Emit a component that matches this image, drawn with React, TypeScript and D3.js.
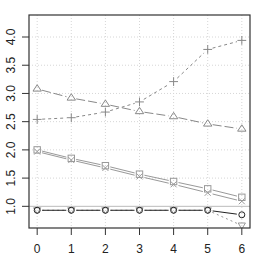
import { useMemo } from "react";
import * as d3 from "d3";

const xs = [0, 1, 2, 3, 4, 5, 6];
const triangles = [3.08, 2.92, 2.81, 2.68, 2.59, 2.46, 2.37];
const pluses = [2.54, 2.57, 2.67, 2.85, 3.21, 3.78, 3.94];
const squares = [2.0, 1.85, 1.72, 1.57, 1.44, 1.31, 1.16];
const crosses = [1.97, 1.82, 1.68, 1.53, 1.39, 1.24, 1.09];
const circles = [0.93, 0.93, 0.93, 0.93, 0.93, 0.93, 0.85];
const downTri = [0.93, 0.93, 0.93, 0.93, 0.93, 0.93, 0.66];
const xTicks = [0, 1, 2, 3, 4, 5, 6];
const yTicks = [1.0, 1.5, 2.0, 2.5, 3.0, 3.5, 4.0];

const W = 258;
const H = 258;
const BOX = { left: 29, top: 15, right: 250, bottom: 228 };

type Shape = "tri" | "plus" | "square" | "cross" | "circle" | "down";

interface Series {
  values: number[];
  shape: Shape;
  color: string;
  dash?: string;
}

const series: Series[] = [
  { values: downTri, shape: "down", color: "#999", dash: "2 3" },
  { values: triangles, shape: "tri", color: "#888", dash: "9 3" },
  { values: pluses, shape: "plus", color: "#888", dash: "3 3" },
  { values: squares, shape: "square", color: "#999" },
  { values: crosses, shape: "cross", color: "#999" },
  { values: circles, shape: "circle", color: "#222" },
];

function Marker({ x, y, shape, color }: { x: number; y: number; shape: Shape; color: string }) {
  const s = 3.6;
  const common = { fill: "none", stroke: color, strokeWidth: 1 };
  switch (shape) {
    case "tri":
      return <path d={`M${x},${y - s - 0.6}L${x + s + 0.6},${y + s * 0.6}L${x - s - 0.6},${y + s * 0.6}Z`} {...common} />;
    case "down":
      return <path d={`M${x},${y + s}L${x + s},${y - s * 0.7}L${x - s},${y - s * 0.7}Z`} {...common} />;
    case "plus":
      return <path d={`M${x - s - 0.8},${y}H${x + s + 0.8}M${x},${y - s - 0.8}V${y + s + 0.8}`} {...common} />;
    case "square":
      return <rect x={x - 3.2} y={y - 3.2} width={6.4} height={6.4} {...common} />;
    case "cross":
      return <path d={`M${x - 3},${y - 3}L${x + 3},${y + 3}M${x - 3},${y + 3}L${x + 3},${y - 3}`} {...common} />;
    case "circle":
      return <circle cx={x} cy={y} r={3} {...common} />;
  }
}

export default function App() {
  const x = useMemo(
    () => d3.scaleLinear().domain([-0.24, 6.24]).range([BOX.left, BOX.right]),
    []
  );
  const y = useMemo(
    () => d3.scaleLinear().domain([0.616, 4.39]).range([BOX.bottom, BOX.top]),
    []
  );
  const gap = 5;

  return (
    <svg
      width={W}
      height={H}
      style={{ position: "absolute", left: 0, top: 0, background: "#fff" }}
      fontFamily="Liberation Sans, Arial, sans-serif"
      fontSize={12}
    >
      <defs>
        <clipPath id="plot">
          <rect x={BOX.left} y={BOX.top} width={BOX.right - BOX.left} height={BOX.bottom - BOX.top} />
        </clipPath>
      </defs>
      {/* grid */}
      <g stroke="#d6d6d6" strokeDasharray="1 2" strokeWidth={1}>
        {xTicks.map((t) => (
          <line key={`gx${t}`} x1={x(t)} x2={x(t)} y1={BOX.top} y2={BOX.bottom} />
        ))}
        {yTicks.slice(1).map((t) => (
          <line key={`gy${t}`} x1={BOX.left} x2={BOX.right} y1={y(t)} y2={y(t)} />
        ))}
      </g>
      <line x1={BOX.left} x2={BOX.right} y1={y(1)} y2={y(1)} stroke="#bbb" strokeWidth={1} />

      <g clipPath="url(#plot)">
        {series.map((s, si) => (
          <g key={si}>
            {s.values.slice(1).map((v, i) => {
              const x0 = x(xs[i]);
              const y0 = y(s.values[i]);
              const x1 = x(xs[i + 1]);
              const y1 = y(v);
              const len = Math.hypot(x1 - x0, y1 - y0);
              if (len < gap * 2) return null;
              const ux = (x1 - x0) / len;
              const uy = (y1 - y0) / len;
              return (
                <line
                  key={i}
                  x1={x0 + ux * gap}
                  y1={y0 + uy * gap}
                  x2={x1 - ux * gap}
                  y2={y1 - uy * gap}
                  stroke={s.color}
                  strokeWidth={1}
                  strokeDasharray={s.dash}
                />
              );
            })}
            {s.values.map((v, i) => (
              <Marker key={`m${i}`} x={x(xs[i])} y={y(v)} shape={s.shape} color={s.color} />
            ))}
          </g>
        ))}
      </g>

      <rect
        x={BOX.left}
        y={BOX.top}
        width={BOX.right - BOX.left}
        height={BOX.bottom - BOX.top}
        fill="none"
        stroke="#333"
        strokeWidth={1.2}
      />

      {/* x axis */}
      {xTicks.map((t) => (
        <g key={`xt${t}`}>
          <line x1={x(t)} x2={x(t)} y1={BOX.bottom} y2={BOX.bottom + 7} stroke="#333" />
          <text x={x(t)} y={253} textAnchor="middle" fill="#222">
            {t}
          </text>
        </g>
      ))}
      {/* y axis */}
      {yTicks.map((t) => (
        <g key={`yt${t}`}>
          <line x1={BOX.left - 7} x2={BOX.left} y1={y(t)} y2={y(t)} stroke="#333" />
          <text
            transform={`translate(15,${y(t)}) rotate(-90)`}
            textAnchor="middle"
            fill="#222"
          >
            {t.toFixed(1)}
          </text>
        </g>
      ))}
    </svg>
  );
}
